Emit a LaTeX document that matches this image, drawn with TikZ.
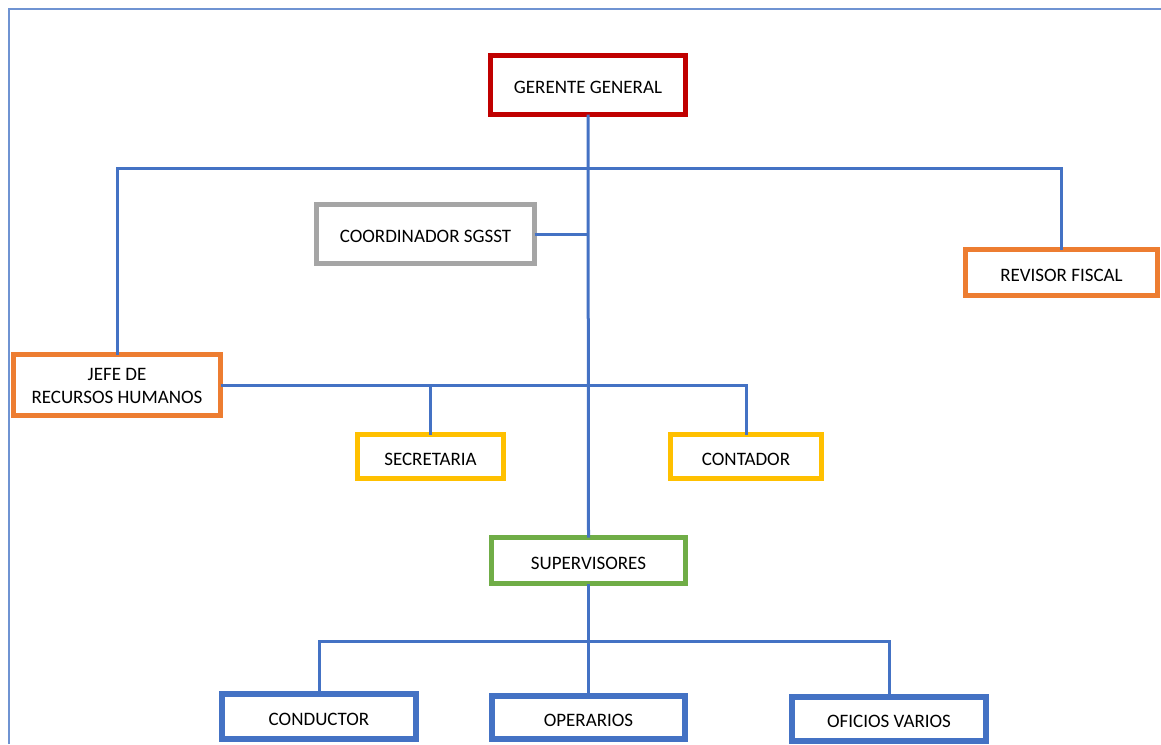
\documentclass[tikz,border=0pt]{standalone}
\usepackage{fontspec}
\setmainfont{Carlito}
\definecolor{cred}{HTML}{C00000}
\definecolor{cgray}{HTML}{A5A5A5}
\definecolor{corange}{HTML}{ED7D31}
\definecolor{cyellow}{HTML}{FFC000}
\definecolor{cgreen}{HTML}{70AD47}
\definecolor{cblue}{HTML}{4472C4}
\definecolor{cframe}{HTML}{6F93D2}
\newcommand{\lbl}[1]{\raisebox{0pt}[17pt][0pt]{#1}}
\tikzset{
  box/.style={draw, rectangle, line width=5pt, fill=white,
    inner sep=0pt, outer sep=0pt, text=black,
    font=\fontsize{19}{23}\selectfont},
  conn/.style={draw=cblue, line width=3pt},
}
\begin{document}
\begin{tikzpicture}[x=1pt,y=-1pt]
\useasboundingbox (0,0) rectangle (1161,744);
\draw[cframe, line width=2.4pt] (9,744) -- (9,9) -- (1161,9);

\coordinate (topbar) at (0,168);
\coordinate (botbar) at (0,641);

\node[box, draw=cred, minimum width=195pt, minimum height=59pt] (gg) at (588,85) {\lbl{GERENTE GENERAL}};
\node[box, draw=cgray, minimum width=218pt, minimum height=59pt] (coord) at (425.5,234) {\lbl{COORDINADOR SGSST}};
\node[box, draw=corange, minimum width=192pt, minimum height=46pt] (rev) at (1061.5,272.5) {\lbl{REVISOR FISCAL}};
\node[box, draw=corange, minimum width=207pt, minimum height=61pt] (jefe) at (117,385) {\raisebox{0pt}[\dimexpr\height+4pt\relax][\depth]{\begin{tabular}{@{}c@{}}JEFE DE\\RECURSOS HUMANOS\end{tabular}}};
\node[box, draw=cyellow, minimum width=146pt, minimum height=44pt] (sec) at (430.5,456.5) {\lbl{SECRETARIA}};
\node[box, draw=cyellow, minimum width=151pt, minimum height=44pt] (cont) at (746,456.5) {\lbl{CONTADOR}};
\node[box, draw=cgreen, minimum width=194pt, minimum height=46pt] (sup) at (588.5,560.5) {\lbl{SUPERVISORES}};
\node[box, draw=cblue, line width=6pt, minimum width=194pt, minimum height=45pt] (cond) at (319,716.5) {\lbl{CONDUCTOR}};
\node[box, draw=cblue, line width=6pt, minimum width=193pt, minimum height=43pt] (oper) at (588.5,717.5) {\lbl{OPERARIOS}};
\node[box, draw=cblue, line width=6pt, minimum width=194pt, minimum height=44pt] (ofi) at (889,718.5) {\lbl{OFICIOS VARIOS}};

\path[conn] (gg.south) -- (sup.north);
\path[conn] (jefe.north) |- (rev.north |- topbar) -- (rev.north);
\path[conn] (coord.east) -- (coord.east -| gg.south);
\path[conn] (jefe.east) -| (cont.north);
\path[conn] (sec.north) -- (sec.north |- jefe.east);
\path[conn] (sup.south) -- (oper.north);
\path[conn] (cond.north) |- (ofi.north |- botbar) -- (ofi.north);
\end{tikzpicture}
\end{document}
